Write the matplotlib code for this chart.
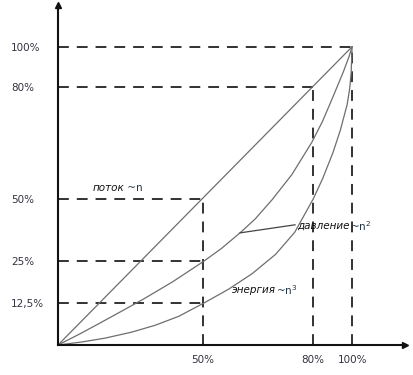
import matplotlib
matplotlib.use("Agg")
import matplotlib.pyplot as plt

# positions are in % of the axis length as drawn in the schematic picture
x_ticks = [49.3, 86.7, 100]
x_labels = ["50%", "80%", "100%"]
y_ticks = [14.1, 28.2, 49.0, 86.6, 100]
y_labels = ["12,5%", "25%", "50%", "80%", "100%"]

# curves
flow_x = [0, 100]
flow_y = [0, 100]
pressure_x = [0, 7, 13.6, 21, 28.9, 39, 49.3, 55.5, 61.9, 67, 72.8, 79.5,
              86.4, 90, 93.5, 97, 99, 100]
pressure_y = [0, 3.5, 7.0, 11.0, 15.3, 21.2, 27.9, 32.3, 37.6, 42.2, 48.7, 57.1,
              68.1, 75.1, 83.2, 91.5, 96.8, 100]
energy_x = [0, 8, 16, 25, 33, 41, 49.3, 58, 66, 74, 80.5, 86.8, 90, 93.5,
            96, 98.3, 99.2, 99.7, 100]
energy_y = [0, 1.0, 2.3, 4.3, 6.6, 9.6, 13.9, 18.7, 23.9, 30.4, 37.8, 49.0, 55.8, 64.5,
            72.0, 80.5, 86.0, 91.5, 100]

fig = plt.figure(figsize=(4.14, 3.75), dpi=100)
ax = fig.add_axes([58 / 414, 30 / 375, 347 / 414, 340 / 375])
ax.set_xlim(0, 118)
ax.set_ylim(0, 114)

dash = dict(color="#222222", lw=1.3, ls=(0, (6, 4.4)))
# horizontal guides
ax.plot([0, 100], [100, 100], **dash)
ax.plot([0, x_ticks[1]], [y_ticks[3], y_ticks[3]], **dash)
for yv in y_ticks[:3]:
    ax.plot([0, x_ticks[0]], [yv, yv], **dash)
# vertical guides
ax.plot([x_ticks[0], x_ticks[0]], [0, y_ticks[2]], **dash)
ax.plot([x_ticks[1], x_ticks[1]], [0, y_ticks[3]], **dash)
ax.plot([100, 100], [0, 100], **dash)

curve = dict(color="#6e6e6e", lw=0.9, solid_joinstyle="round")
ax.plot(flow_x, flow_y, **curve)
ax.plot(pressure_x, pressure_y, **curve)
ax.plot(energy_x, energy_y, **curve)

# leader line for pressure label
ax.plot([61.9, 80.6], [37.6, 40.3], color="#444444", lw=0.9)

lab = dict(fontsize=7.5, style="italic", va="center", ha="left", color="#111111")
suf = dict(fontsize=7.5, va="center", ha="left", color="#223344")
labels = [("поток", " ~n", 11.6, 52.7),
          ("давление", "~n$^{2}$", 81.3, 40.0),
          ("энергия", "~n$^{3}$", 59.2, 18.5)]
for word, tail, lx, ly in labels:
    t = ax.text(lx, ly, word, **lab)
    ax.annotate(tail, xy=(1, 0.5), xycoords=t, **suf)

# axes with arrows
for s in ["top", "right"]:
    ax.spines[s].set_visible(False)
for s in ["left", "bottom"]:
    ax.spines[s].set_linewidth(1.5)
    ax.spines[s].set_color("#111111")
ax.plot([0], [114], marker="^", color="#111111", ms=5, clip_on=False)
ax.plot([118], [0], marker=">", color="#111111", ms=5, clip_on=False)

ax.set_xticks(x_ticks)
ax.set_xticklabels(x_labels)
ax.set_yticks(y_ticks)
ax.set_yticklabels(y_labels)
ax.tick_params(axis="both", length=0, labelsize=7.5, labelcolor="#333340")
ax.tick_params(axis="x", pad=7)
ax.tick_params(axis="y", pad=34)
plt.setp(ax.get_yticklabels(), ha="left")

fig.savefig("out.png", dpi=100)
